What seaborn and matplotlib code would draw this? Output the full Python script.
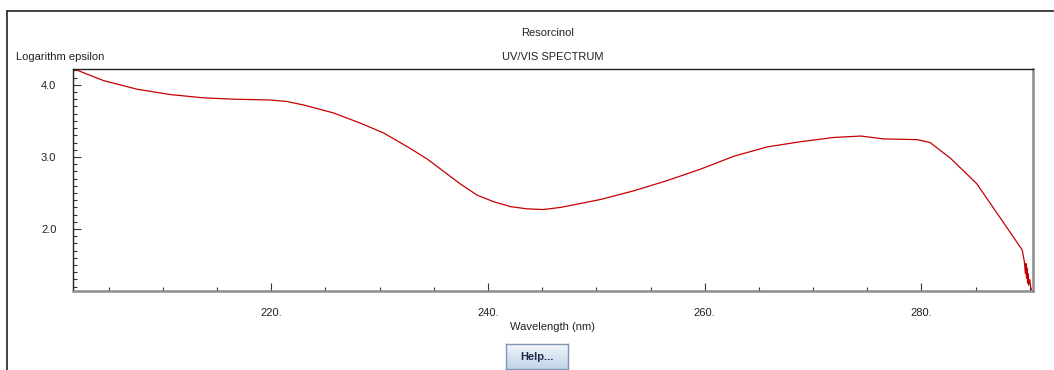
import numpy as np
import pandas as pd
import matplotlib
matplotlib.use("Agg")
import matplotlib.pyplot as plt
from matplotlib.ticker import MultipleLocator, FuncFormatter
from matplotlib.lines import Line2D
import seaborn as sns

# UV/VIS absorption spectrum of resorcinol
wavelength = [201.8, 204.5, 207.6, 210.7, 213.75, 216.8, 219.9, 221.4, 223.0,
              225.75, 228.2, 230.4, 232.8, 234.4, 235.9, 237.45, 239.0,
              240.5, 242.1, 243.6, 245.1, 246.7, 248.4, 250.4, 253.45, 256.5,
              259.6, 262.7, 265.8, 268.8, 271.9, 274.4, 276.5, 279.6, 280.8,
              282.7, 285.1, 287.3, 289.3, 289.5, 289.6, 289.65, 289.7, 289.75,
              289.8, 289.85, 289.9, 290.0, 290.1, 290.2]
log_epsilon = [4.22, 4.06, 3.94, 3.865, 3.82, 3.80, 3.79, 3.77, 3.72,
               3.61, 3.47, 3.33, 3.12, 2.97, 2.80, 2.625, 2.47,
               2.38, 2.31, 2.28, 2.27, 2.30, 2.35, 2.41, 2.53, 2.67,
               2.83, 3.01, 3.14, 3.21, 3.27, 3.29, 3.25, 3.24, 3.20,
               2.98, 2.63, 2.15, 1.71, 1.55, 1.38, 1.52, 1.32, 1.46,
               1.25, 1.38, 1.22, 1.30, 1.18, 1.15]

x_ticks = [220, 240, 260, 280]
y_ticks = [2.0, 3.0, 4.0]

df = pd.DataFrame({"Wavelength (nm)": wavelength, "Logarithm epsilon": log_epsilon})

sns.set_style("white")
plt.rcParams["font.family"] = ["Liberation Sans", "DejaVu Sans"]
plt.rcParams["font.size"] = 8

W, H = 1054, 370
fig = plt.figure(figsize=(W / 100, H / 100), dpi=100)
fig.patch.set_facecolor("white")


def fx(px):
    return px / W


def fy(py):
    return 1 - py / H


# panel border (top and left edges)
fig.add_artist(Line2D([fx(7), fx(W)], [fy(11), fy(11)], color="#222222", lw=1.2))
fig.add_artist(Line2D([fx(7), fx(7)], [fy(11), fy(H)], color="#222222", lw=1.2))

ax = fig.add_axes([fx(73), fy(291), fx(1033) - fx(73), fy(69) - fy(291)])
sns.lineplot(data=df, x="Wavelength (nm)", y="Logarithm epsilon", ax=ax,
             color="#c40000", lw=0.9, sort=False, estimator=None)

ax.set_xlim(201.7, 290.3)
ax.set_ylim(1.14, 4.22)

ax.xaxis.set_major_locator(plt.FixedLocator(x_ticks))
ax.xaxis.set_minor_locator(MultipleLocator(5))
ax.yaxis.set_major_locator(plt.FixedLocator(y_ticks))
ax.yaxis.set_minor_locator(MultipleLocator(0.1))
ax.xaxis.set_major_formatter(FuncFormatter(lambda v, p: f"{v:.0f}."))
ax.yaxis.set_major_formatter(FuncFormatter(lambda v, p: f"{v:.1f}"))

ax.tick_params(axis="both", which="both", direction="in", color="#333333",
               width=0.8, labelsize=8, labelcolor="#222222")
ax.tick_params(axis="both", which="major", length=6)
ax.tick_params(axis="both", which="minor", length=3)
ax.tick_params(axis="x", which="both", top=False, bottom=True, pad=12)
ax.tick_params(axis="y", which="both", left=True, right=False, pad=12)

ax.set_xlabel("")
ax.set_ylabel("")

for side in ("top", "left"):
    ax.spines[side].set_color("#222222")
    ax.spines[side].set_linewidth(1.0)
for side in ("bottom", "right"):
    ax.spines[side].set_color("#8c8c8c")
    ax.spines[side].set_linewidth(1.8)

# text labels
fig.text(fx(548), fy(33), "Resorcinol", ha="center", va="center", fontsize=8, color="#222222")
fig.text(fx(553), fy(57), "UV/VIS SPECTRUM", ha="center", va="center", fontsize=8, color="#222222")
fig.text(fx(16), fy(57), "Logarithm epsilon", ha="left", va="center", fontsize=8, color="#222222")
fig.text(fx(553), fy(327), "Wavelength (nm)", ha="center", va="center", fontsize=8, color="#222222")

# Help button with vertical gradient
bx = fig.add_axes([fx(506), fy(369), fx(568) - fx(506), fy(344) - fy(369)])
grad = np.linspace(0, 1, 64).reshape(-1, 1)
cmap = matplotlib.colors.LinearSegmentedColormap.from_list(
    "btn", ["#f4f8fc", "#d6e3f1", "#c3d5ea"])
bx.imshow(grad, aspect="auto", cmap=cmap, extent=[0, 1, 0, 1], origin="upper")
bx.set_xticks([])
bx.set_yticks([])
for s in bx.spines.values():
    s.set_color("#8297b5")
    s.set_linewidth(1.0)
bx.text(0.5, 0.5, "Help...", ha="center", va="center", fontsize=8,
        fontweight="bold", color="#1c2a44", transform=bx.transAxes)

fig.savefig("out.png", dpi=100, facecolor="white")
